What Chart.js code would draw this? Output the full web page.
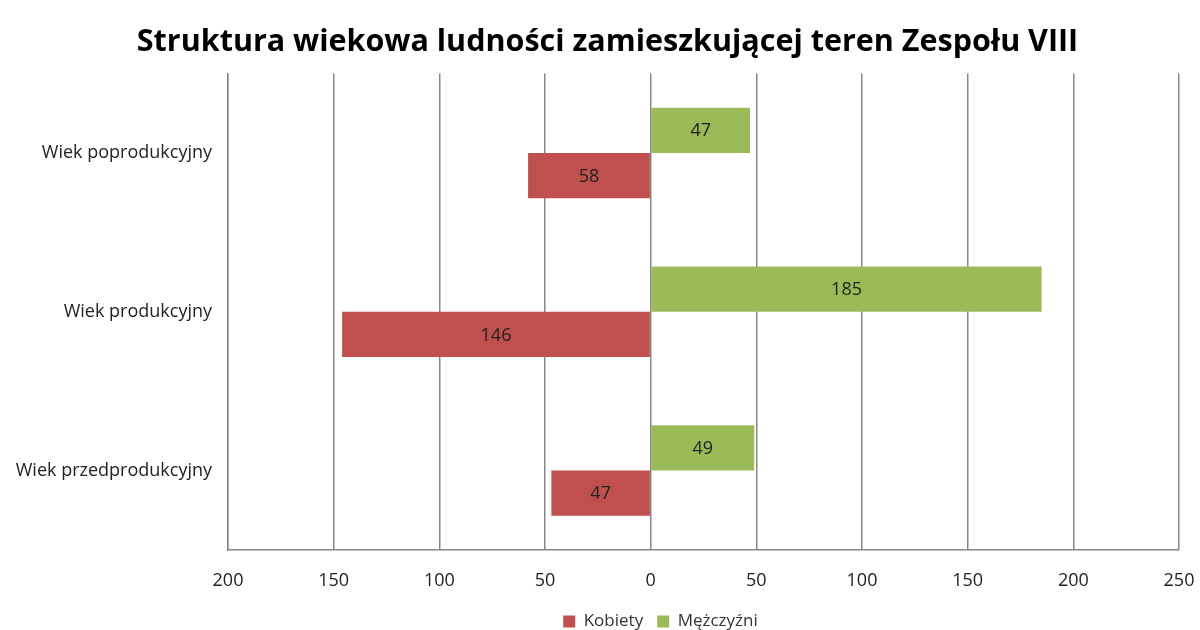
<!DOCTYPE html>
<html>
<head>
<meta charset="utf-8">
<script src="https://cdn.jsdelivr.net/npm/chart.js@4/dist/chart.umd.min.js"></script>
<style>
    html, body { margin: 0; padding: 0; background: #fff; }
    #wrap { width: 1200px; height: 630px; }
</style>
</head>
<body>
<div id="wrap"><canvas id="ageChart"></canvas></div>
<script>
const categories = ['Wiek poprodukcyjny', 'Wiek produkcyjny', 'Wiek przedprodukcyjny'];
const men = [47, 185, 49];
const women = [58, 146, 47];
const womenLeft = women.map(v => -v);
const xTicks = [-200, -150, -100, -50, 0, 50, 100, 150, 200, 250];

const FONT = "'Open Sans', sans-serif";
const GRID = '#878787';

// value written in the middle of each bar
const barValues = {
    id: 'barValues',
    afterDatasetsDraw(chart) {
        const ctx = chart.ctx;
        ctx.save();
        ctx.font = '18px ' + FONT;
        ctx.fillStyle = '#222';
        ctx.textAlign = 'center';
        ctx.textBaseline = 'middle';
        chart.data.datasets.forEach((ds, i) => {
            chart.getDatasetMeta(i).data.forEach((bar, j) => {
                const mid = (bar.x + bar.base) / 2;
                ctx.fillText(Math.abs(ds.data[j]), mid, bar.y + 1);
            });
        });
        ctx.restore();
    }
};

// title and legend sit right of the canvas centre, legend close to the bottom edge
const nudgeBlocks = {
    id: 'nudgeBlocks',
    afterLayout(chart) {
        const t = chart.titleBlock;
        t.left += 18;
        t.right += 18;
        const lg = chart.legend;
        lg.left += 71;
        lg.right += 71;
        lg.top += 10;
        lg.bottom += 10;
    }
};

new Chart(document.getElementById('ageChart').getContext('2d'), {
    type: 'bar',
    data: {
        labels: categories,
        datasets: [
            {
                label: 'Mężczyźni',
                data: men,
                backgroundColor: '#9BBB59'
            },
            {
                label: 'Kobiety',
                data: womenLeft,
                backgroundColor: '#C0504D'
            }
        ]
    },
    options: {
        indexAxis: 'y',
        responsive: true,
        maintainAspectRatio: false,
        animation: false,
        categoryPercentage: 0.57,
        barPercentage: 1.0,
        layout: {
            padding: { left: 0, right: 21, top: 0, bottom: 0 }
        },
        plugins: {
            title: {
                display: true,
                text: 'Struktura wiekowa ludności zamieszkującej teren Zespołu VIII',
                color: '#000',
                font: { family: FONT, size: 30.5, weight: 'bold' },
                padding: { top: 24, bottom: 13 }
            },
            legend: {
                position: 'bottom',
                reverse: true,
                labels: {
                    boxWidth: 12,
                    boxHeight: 12,
                    padding: 14,
                    color: '#333',
                    font: { family: FONT, size: 17 }
                }
            },
            tooltip: { enabled: false }
        },
        scales: {
            x: {
                min: -200,
                max: 250,
                afterBuildTicks: function(scale) {
                    scale.ticks = xTicks.map(v => ({ value: v }));
                },
                afterFit: function(scale) {
                    scale.height = 39;
                    scale.paddingLeft = 0;
                    scale.paddingRight = 0;
                },
                ticks: {
                    color: '#222',
                    padding: 20,
                    font: { family: FONT, size: 18 },
                    callback: function(value) {
                        return Math.abs(value);
                    }
                },
                grid: {
                    color: GRID,
                    lineWidth: 1.5,
                    drawTicks: false
                },
                border: { color: GRID, width: 1.5 }
            },
            y: {
                afterFit: function(scale) {
                    scale.width = 228;
                },
                ticks: {
                    color: '#222',
                    padding: 16,
                    font: { family: FONT, size: 18 }
                },
                grid: { display: false, drawTicks: false },
                border: { color: GRID, width: 1.5 }
            }
        }
    },
    plugins: [barValues, nudgeBlocks]
});
</script>
</body>
</html>
